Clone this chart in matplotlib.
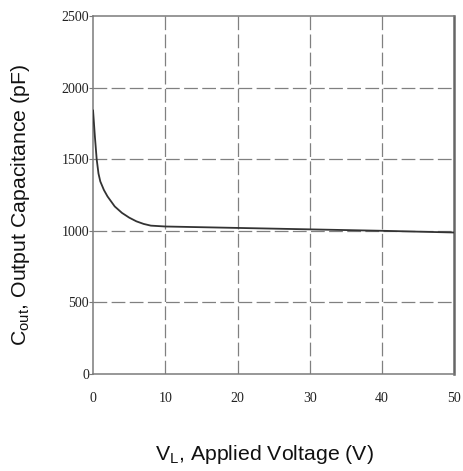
import matplotlib
matplotlib.use("Agg")
import matplotlib.pyplot as plt

# applied voltage (V) and output capacitance (pF)
voltage = [0, 0.25, 0.5, 0.75, 1, 1.5, 2, 3, 4, 5, 6, 7, 8, 10, 20, 30, 40, 50]
capacitance = [1840, 1660, 1500, 1400, 1345, 1285, 1240, 1170, 1125, 1092, 1066, 1048, 1036, 1030, 1020, 1010, 1000, 988]

x_ticks = [0, 10, 20, 30, 40, 50]
y_ticks = [0, 500, 1000, 1500, 2000, 2500]

fig = plt.figure(figsize=(4.63, 4.71), dpi=100)
ax = fig.add_axes([0.201, 0.206, 0.780, 0.760])

ax.plot(voltage, capacitance, color="#333333", linewidth=1.3, zorder=3)

ax.set_xlim(0, 50)
ax.set_ylim(0, 2500)
ax.set_xticks(x_ticks)
ax.set_yticks(y_ticks)

for v in x_ticks[1:-1]:
    ax.axvline(v, color="#808080", linewidth=0.9, dashes=(11, 3.5), zorder=1)
for c in y_ticks[1:-1]:
    ax.axhline(c, color="#808080", linewidth=0.9, dashes=(11, 3.5), zorder=1)

for side in ["left", "bottom", "top"]:
    ax.spines[side].set_color("#7a7a7a")
    ax.spines[side].set_linewidth(1.1)
ax.spines["right"].set_color("#666666")
ax.spines["right"].set_linewidth(1.8)

ax.tick_params(axis="y", length=3, width=0.8, color="#7a7a7a", pad=0,
               labelsize=10, labelcolor="#222222")
ax.tick_params(axis="x", length=0, pad=13, labelsize=10, labelcolor="#222222")
for lab in ax.get_xticklabels() + ax.get_yticklabels():
    lab.set_family("Liberation Serif")

fig.text(0.572, 0.034, "V$_\\mathregular{L}$, Applied Voltage (V)", ha="center", va="center",
         fontsize=15.3, family="Liberation Sans", color="#111111")
fig.text(0.045, 0.565, "C$_\\mathregular{out}$, Output Capacitance (pF)", ha="center", va="center",
         rotation=90, fontsize=15.3, family="Liberation Sans", color="#111111")

fig.savefig("out.png", dpi=100)
